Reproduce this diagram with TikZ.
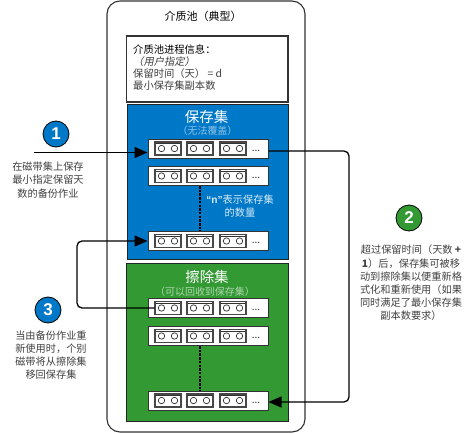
\documentclass[tikz,border=0pt]{standalone}
\usepackage{fontspec}
\setmainfont{Noto Sans CJK SC}
\newfontfamily\slantcjk[FakeSlant=0.2]{Noto Sans CJK SC}
\newfontfamily\latinbold{Liberation Sans Bold}
\usetikzlibrary{arrows.meta}
\definecolor{poolblue}{HTML}{0078C8}
\definecolor{poolgreen}{HTML}{339933}
\definecolor{lineDark}{HTML}{333333}
\definecolor{bodytext}{HTML}{404040}
\tikzset{
  x=1pt,y=-1pt,
  txt/.style={inner sep=0pt,align=center,text=bodytext,font=\fontsize{10.2}{13.2}\selectfont},
  pool/.style={draw=lineDark,line width=1.1pt,rounded corners=13pt,fill=white},
  infobox/.style={draw=lineDark,line width=1.1pt,fill=white,minimum width=161.5pt,minimum height=66pt,inner sep=0pt},
  setbox/.style={draw=lineDark!70!black,line width=1pt,minimum width=161.5pt,inner sep=0pt},
  taperow/.style={draw=lineDark,line width=1pt,fill=white,minimum width=120pt,minimum height=19pt,inner sep=0pt},
  cassette/.style={draw=lineDark!90,line width=1.1pt,fill=white,minimum width=26pt,minimum height=13pt,inner sep=0pt},
  reel/.style={draw=lineDark,line width=0.7pt,fill=white,circle,minimum size=6.4pt,inner sep=0pt},
  badge/.style={circle,draw=black,line width=0.8pt,minimum size=26pt,inner sep=0pt,text=white,font=\latinbold\fontsize{17}{17}\selectfont},
  flow/.style={draw=black,line width=1.3pt,rounded corners=5pt},
  flowtip/.style={-{Triangle[length=13pt,width=11pt]}},
  dots/.style={inner sep=0pt,text=lineDark,font=\fontsize{10}{10}\selectfont},
  dashline/.style={draw=black,line width=1.4pt,dash pattern=on 2.5pt off 1.2pt},
  settitle/.style={inner sep=0pt,text=white,font=\fontsize{14.5}{15}\selectfont},
  setsub/.style={inner sep=0pt,font=\fontsize{10}{11}\selectfont}
}
\newcommand{\tapegroup}[2]{%
  \node[taperow] (#1) at (208,#2) {};
  \foreach \s/\cx in {a/168,b/200,c/233}{
    \node[cassette] (#1\s) at (\cx,#2) {};
    \draw[lineDark,line width=0.7pt] ([yshift=-2pt,xshift=2pt]#1\s.north west) -- ([yshift=-2pt,xshift=-2pt]#1\s.north east);
    \node[reel] at ([xshift=-6.5pt]#1\s.center) {};
    \node[reel] at ([xshift=6.5pt]#1\s.center) {};
  }
  \node[dots] at (256,#2+2) {...};
}
\begin{document}
\begin{tikzpicture}
\useasboundingbox (0,0) rectangle (475,434);
\node[pool,minimum width=198pt,minimum height=431pt,inner sep=0pt] (pool) at (206,216.5) {};
\node[inner sep=0pt,text=black,font=\fontsize{11}{12}\selectfont] (pooltitle) at (203,16) {介质池（典型）};
\node[infobox] (info) at (207.25,69) {};
\node[inner sep=0pt,anchor=north west,align=left,text=bodytext,font=\fontsize{10.3}{12}\selectfont] (infotext) at (133,45)
  {{\color{black}介质池进程信息：}\\{\slantcjk（用户指定）}\\保留时间（天） = d\\最小保存集副本数};
\node[setbox,fill=poolblue,minimum height=154.5pt] (saveset) at (207.75,181.75) {};
\node[setbox,fill=poolgreen,minimum height=158pt] (eraseset) at (207.5,342) {};
\node[settitle] (savetitle) at (206.5,117) {保存集};
\node[setsub,text=poolblue!45!white] (savesub) at (207.5,131) {（无法覆盖）};
\node[settitle] (erasetitle) at (207,277) {擦除集};
\node[setsub,text=poolgreen!40!white] (erasesub) at (205,292) {（可以回收到保存集）};
\tapegroup{row1}{148.5}
\tapegroup{row2}{176}
\tapegroup{row3}{241}
\tapegroup{row4}{308}
\tapegroup{row5}{336}
\tapegroup{row6}{400.5}
\draw[dashline] (row2.south -| 200,0) -- (row3.north -| 200,0);
\draw[dashline] (row5.south -| 200,0) -- (row6.north -| 200,0);
\node[inner sep=0pt,align=center,text=poolblue!15!white,font=\fontsize{10.2}{13.2}\selectfont] (ntext) at (240,206.5) {{\latinbold “n”}表示保存集\\的数量};
\coordinate (c1) at (34,152.5);
\coordinate (c2a) at (349,151);
\coordinate (c2b) at (349,402);
\coordinate (c3a) at (77,241);
\coordinate (c3b) at (77,308);
\draw[flow,flowtip] (c1) -- (c1 -| row1.west);
\draw[flow,flowtip] (c2a -| row1.east) -- (c2a) -- (c2b) -- (c2b -| row6.east);
\draw[flow,flowtip] (row4a.west) -- (c3b) -- (c3a) -- (row3.west);
\node[badge,fill=poolblue] (b1) at (56,134) {1};
\node[badge,fill=poolgreen] (b2) at (409,218) {2};
\node[badge,fill=poolblue] (b3) at (48,310) {3};
\node[txt] (t1) at (48,180) {在磁带集上保存\\最小指定保留天\\数的备份作业};
\node[txt] (t2) at (411,283) {超过保留时间（天数 \textbf{+}\\\textbf{1}）后，保存集可被移\\动到擦除集以便重新格\\式化和重新使用（如果\\同时满足了最小保存集\\副本数要求）};
\node[txt] (t3) at (51,355) {当由备份作业重\\新使用时，个别\\磁带将从擦除集\\移回保存集};
\end{tikzpicture}
\end{document}
